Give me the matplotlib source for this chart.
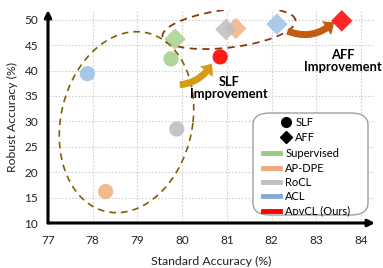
import numpy as np
import matplotlib
matplotlib.use("Agg")
import matplotlib.pyplot as plt
from matplotlib.patches import FancyArrowPatch, FancyBboxPatch
from matplotlib.lines import Line2D

plt.rcParams['font.family'] = ['Lato', 'DejaVu Sans']

methods = ['Supervised', 'AP-DPE', 'RoCL', 'ACL', 'AᴅᴠCL (Ours)']
slf_std = [79.75, 78.29, 79.88, 77.88, 80.85]
slf_rob = [42.3, 16.2, 28.5, 39.4, 42.7]
aff_std = [79.84, 81.2, 80.98, 82.12, 83.57]
aff_rob = [46.2, 48.3, 48.1, 49.15, 49.8]
marker_colors = ['#A9D18E', '#F4B183', '#BFBFBF', '#9DC3E6', '#FF0000']
legend_colors = ['#9BCB7E', '#F4A77A', '#C0C0C0', '#86A8DC', '#FF0000']
xticks = [77, 78, 79, 80, 81, 82, 83, 84]
yticks = [10, 15, 20, 25, 30, 35, 40, 45, 50]

W, H = 383, 268
fig = plt.figure(figsize=(W / 100, H / 100), dpi=100)
ax_l, ax_r, ax_b, ax_t = 48, 375, 223, 10
ax = fig.add_axes([ax_l / W, 1 - ax_b / H, (ax_r - ax_l) / W, (ax_b - ax_t) / H])
XMIN, XMAX = 77, 77 + (ax_r - ax_l) / 44.71
YMIN, YMAX = 10, 10 + (ax_b - ax_t) / 5.08
ax.set_xlim(XMIN, XMAX)
ax.set_ylim(YMIN, YMAX)

def px2d(px, py):
    x = XMIN + (px - ax_l) / (ax_r - ax_l) * (XMAX - XMIN)
    y = YMIN + (ax_b - py) / (ax_b - ax_t) * (YMAX - YMIN)
    return x, y

ax.set_xticks(xticks)
ax.set_yticks(yticks)
ax.grid(True, color='#D0D0D0', linestyle=(0, (1.5, 1.5)), linewidth=0.8)
ax.set_axisbelow(True)
for s in ax.spines.values():
    s.set_visible(False)
ax.tick_params(axis='x', length=0, labelsize=8.5, pad=9, colors='#222222')
ax.tick_params(axis='y', length=0, labelsize=8.5, pad=7, colors='#222222')
ax.set_xlabel('Standard Accuracy (%)', fontsize=8.8, labelpad=7, color='#222222')
ax.set_ylabel('Robust Accuracy (%)', fontsize=8.8, labelpad=5, color='#222222')

# axis arrows
ax.annotate('', xy=(1, 0), xytext=(0, 0), xycoords='axes fraction',
            arrowprops=dict(arrowstyle='-|>', lw=2.2, color='black', mutation_scale=10,
                            shrinkA=0, shrinkB=0))
ax.annotate('', xy=(0, 1), xytext=(0, 0), xycoords='axes fraction',
            arrowprops=dict(arrowstyle='-|>', lw=2.2, color='black', mutation_scale=10,
                            shrinkA=0, shrinkB=0))

# ellipses (pixel-space shape converted to data)
t = np.linspace(0, 2 * np.pi, 300)
cx, cy, rx, ry, sh = 126.5, 122.2, 66.5, 90.5, 0.11
ex = cx + rx * np.cos(t) + sh * ry * np.sin(t)
ey = cy - ry * np.sin(t)
dx, dy = px2d(ex, ey)
ax.plot(dx, dy, color='#7F6000', lw=1.2, dashes=(4, 3), zorder=2)
cx, cy, a, b, th = 229, 28.5, 67, 19, np.deg2rad(7)
ux = cx + a * np.cos(t) * np.cos(th) - b * np.sin(t) * np.sin(th)
uy = cy - (a * np.cos(t) * np.sin(th) + b * np.sin(t) * np.cos(th))
dx, dy = px2d(ux, uy)
ax.plot(dx, dy, color='#843C0C', lw=1.3, dashes=(4, 3), zorder=2)

# points
for i in range(len(methods)):
    ax.scatter(slf_std[i], slf_rob[i], s=120, marker='o', color=marker_colors[i],
               edgecolors='none', alpha=0.9, zorder=3, clip_on=False)
    ax.scatter(aff_std[i], aff_rob[i], s=120, marker='D', color=marker_colors[i],
               edgecolors='none', alpha=0.85, zorder=3, clip_on=False)

# improvement arrows
p0, p1 = px2d(177, 85), px2d(213, 61)
ax.add_patch(FancyArrowPatch(p0, p1, connectionstyle='arc3,rad=0.3',
                             arrowstyle='simple,head_length=7,head_width=12,tail_width=5',
                             mutation_scale=1, color='#D39C12', lw=0, zorder=4))
p0, p1 = px2d(285, 30), px2d(336, 20)
ax.add_patch(FancyArrowPatch(p0, p1, connectionstyle='arc3,rad=0.35',
                             arrowstyle='simple,head_length=7,head_width=12,tail_width=5',
                             mutation_scale=1, color='#C55A11', lw=0, zorder=4))

tx, ty = px2d(229, 88)
ax.text(tx, ty, 'SLF\nImprovement', ha='center', va='center', fontsize=9.3,
        fontweight='bold', linespacing=1.05, zorder=5)
tx, ty = px2d(343, 61)
ax.text(tx, ty, 'AFF\nImprovement', ha='center', va='center', fontsize=9.3,
        fontweight='bold', linespacing=1.05, zorder=5)

# legend box
box = FancyBboxPatch((253 / W, 1 - 215 / H), (368 - 253) / W, (215 - 113) / H,
                     boxstyle='round,pad=0,rounding_size=0.045', transform=fig.transFigure,
                     facecolor='white', edgecolor='#A0A0A0', lw=1.0, zorder=6)
fig.patches.append(box)

h1 = [Line2D([], [], marker='o', color='black', ls='none', markersize=7),
      Line2D([], [], marker='D', color='black', ls='none', markersize=6)]
leg1 = fig.legend(h1, ['SLF', 'AFF'], loc='upper left', bbox_to_anchor=(278 / W, 1 - 115 / H),
                  frameon=False, fontsize=8, handlelength=1.0, handletextpad=0.35,
                  labelspacing=0.3, borderpad=0.2, borderaxespad=0)
h2 = [Line2D([], [], color=c, lw=3.5) for c in legend_colors]
leg2 = fig.legend(h2, methods, loc='upper left', bbox_to_anchor=(261 / W, 1 - 146 / H),
                  frameon=False, fontsize=8, handlelength=1.55, handletextpad=0.45,
                  labelspacing=0.3, borderpad=0.2, borderaxespad=0)
for lg in (leg1, leg2):
    lg.set_zorder(7)

fig.savefig('out.png', dpi=100)
